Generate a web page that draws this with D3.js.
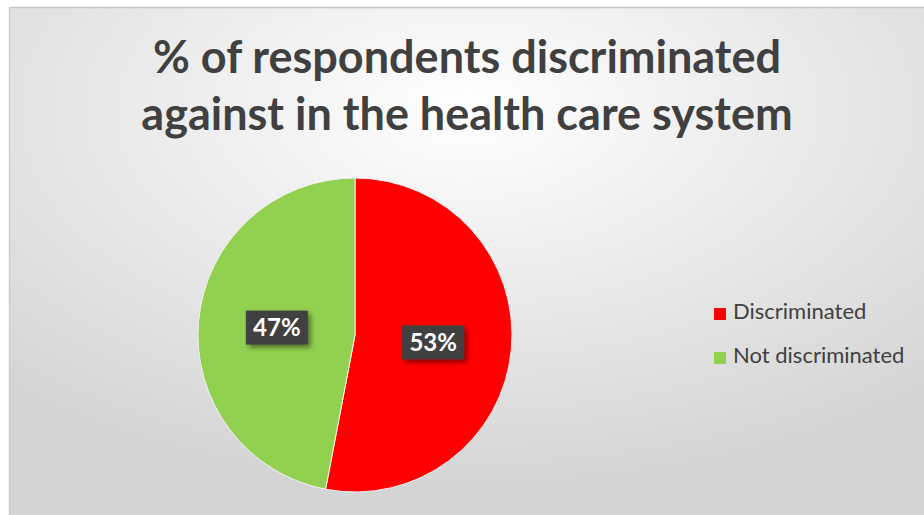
<!DOCTYPE html>
<html><head><meta charset="utf-8">
<script src="https://cdn.jsdelivr.net/npm/d3@7"></script>
<style>html,body{margin:0;padding:0;background:#fff;}svg{display:block;}</style>
</head><body>
<script>
const categories = ["Discriminated", "Not discriminated"];
const values = [53, 47];
const labels = ["53%", "47%"];
const colors = ["#ff0000", "#92d050"];
const titleLines = ["% of respondents discriminated", "against in the health care system"];

const W = 924, H = 515;
const svg = d3.select("body").append("svg").attr("width", W).attr("height", H);
const defs = svg.append("defs");
const rg = defs.append("radialGradient").attr("id", "bg")
  .attr("cx", "50%").attr("cy", "20%").attr("r", "75%")
  .attr("gradientUnits", "objectBoundingBox");
rg.append("stop").attr("offset", "0%").attr("stop-color", "#ffffff");
rg.append("stop").attr("offset", "100%").attr("stop-color", "#d4d4d4");
const sh = defs.append("filter").attr("id", "sh").attr("x", "-30%").attr("y", "-30%").attr("width", "170%").attr("height", "170%");
sh.append("feDropShadow").attr("dx", 3).attr("dy", 3).attr("stdDeviation", 2.5).attr("flood-color", "#000").attr("flood-opacity", 0.45);

svg.append("rect").attr("x", 10).attr("y", 8).attr("width", W - 10).attr("height", H - 8).attr("fill", "url(#bg)");
svg.append("line").attr("x1", 10).attr("x2", W).attr("y1", 7.5).attr("y2", 7.5).attr("stroke", "#c4c4c4").attr("stroke-width", 1.5);
svg.append("line").attr("x1", 9.5).attr("x2", 9.5).attr("y1", 7).attr("y2", H).attr("stroke", "#cfcfcf").attr("stroke-width", 1.5);

svg.append("text").attr("x", 467).attr("y", 73).attr("text-anchor", "middle")
  .selectAll("tspan").data(titleLines).join("tspan")
  .attr("x", 467).attr("dy", (d, i) => i ? 57 : 0)
  .attr("font-family", "Lato, 'Open Sans', sans-serif").attr("font-weight", "bold")
  .attr("font-size", 45).attr("fill", "#404040").text(d => d);

const cx = 355, cy = 335, R = 157;
const pie = d3.pie().sort(null).value(d => d)(values);
const arc = d3.arc().innerRadius(0).outerRadius(R);
const g = svg.append("g").attr("transform", `translate(${cx},${cy})`);
g.selectAll("path").data(pie).join("path").attr("d", arc)
  .attr("fill", (d, i) => colors[i]).attr("stroke", "#f2f2f2").attr("stroke-width", 1);

const labArc = d3.arc().innerRadius(R * 0.5).outerRadius(R * 0.5);
const lg = g.selectAll("g.lab").data(pie).join("g").attr("class", "lab")
  .attr("transform", d => `translate(${labArc.centroid(d)})`);
lg.append("rect").attr("x", -31).attr("y", -17).attr("width", 62).attr("height", 34)
  .attr("fill", "#404040").attr("filter", "url(#sh)");
lg.append("text").attr("text-anchor", "middle").attr("dy", "0.36em")
  .attr("font-family", "Lato, 'Open Sans', sans-serif").attr("font-weight", "bold")
  .attr("font-size", 24).attr("fill", "#fff").text((d, i) => labels[i]);

const leg = svg.append("g").attr("transform", "translate(714,308)");
const li = leg.selectAll("g").data(categories).join("g").attr("transform", (d, i) => `translate(0,${i * 44})`);
li.append("rect").attr("width", 12).attr("height", 12).attr("fill", (d, i) => colors[i]);
li.append("text").attr("x", 19).attr("y", 11).attr("font-family", "Lato, 'Open Sans', sans-serif")
  .attr("font-size", 22).attr("fill", "#404040").text(d => d);
</script>
</body></html>
